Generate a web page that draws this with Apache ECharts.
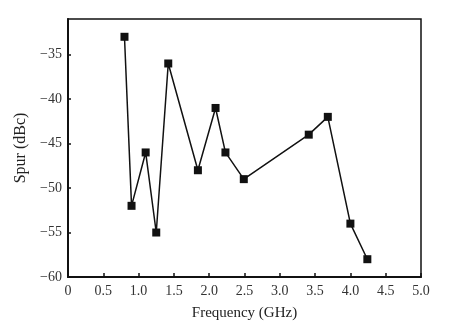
<!DOCTYPE html>
<html>
<head>
<meta charset="utf-8">
<script src="https://cdn.jsdelivr.net/npm/echarts@6/dist/echarts.min.js"></script>
<style>
  html, body { margin: 0; padding: 0; background: #fff; }
  #chart { width: 462px; height: 330px; }
</style>
</head>
<body>
<div id="chart"></div>
<script>
// Spur level measured at each test frequency
const frequencyGHz = [0.8, 0.9, 1.1, 1.25, 1.42, 1.84, 2.09, 2.23, 2.49, 3.41, 3.68, 4.0, 4.24];
const spurDBc = [-33, -52, -46, -55, -36, -48, -41, -46, -49, -44, -42, -54, -58];

const xTicks = { min: 0, max: 5, interval: 0.5 };
const yTicks = { min: -60, max: -31, interval: 5 };

const FONT = '"Liberation Serif", "DejaVu Serif", serif';
const minus = s => String(s).replace('-', '\u2212');

const chart = echarts.init(document.getElementById('chart'), null, { renderer: 'canvas' });
chart.setOption({
  animation: false,
  backgroundColor: '#ffffff',
  grid: {
    left: 68, right: 41, top: 19, bottom: 53,
    show: true, borderColor: '#111', borderWidth: 1.5, backgroundColor: 'transparent'
  },
  xAxis: {
    type: 'value',
    min: xTicks.min, max: xTicks.max, interval: xTicks.interval,
    name: 'Frequency (GHz)',
    nameLocation: 'middle',
    nameGap: 29,
    nameTextStyle: { fontFamily: FONT, fontSize: 15, color: '#222' },
    axisLine: { show: true, onZero: false, lineStyle: { color: '#111', width: 2 } },
    axisTick: { show: true, inside: true, length: 4, lineStyle: { color: '#111', width: 1.5 } },
    axisLabel: {
      fontFamily: FONT, fontSize: 14, color: '#333', margin: 7,
      formatter: v => (v === 0 ? '0' : v.toFixed(1))
    },
    splitLine: { show: false }
  },
  yAxis: {
    type: 'value',
    min: yTicks.min, max: yTicks.max, interval: yTicks.interval,
    name: 'Spur (dBc)',
    nameLocation: 'middle',
    nameGap: 39,
    nameTextStyle: { fontFamily: FONT, fontSize: 16, color: '#222' },
    axisLine: { show: true, onZero: false, lineStyle: { color: '#111', width: 2 } },
    axisTick: { show: true, inside: true, length: 3, lineStyle: { color: '#111', width: 1.5 } },
    axisLabel: {
      fontFamily: FONT, fontSize: 14, color: '#333', margin: 6,
      showMaxLabel: false,
      formatter: v => (v % 5 === 0 ? minus(v) : '')
    },
    splitLine: { show: false }
  },
  series: [{
    type: 'line',
    data: frequencyGHz.map((f, i) => [f, spurDBc[i]]),
    symbol: 'rect',
    symbolSize: 8,
    itemStyle: { color: '#111' },
    lineStyle: { color: '#111', width: 1.5 },
    z: 3
  }]
});
</script>
</body>
</html>
